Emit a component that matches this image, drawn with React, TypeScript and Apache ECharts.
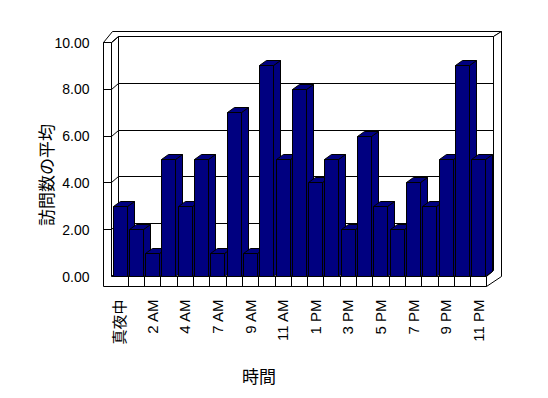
import React, { useEffect, useRef } from "react";
import * as echarts from "echarts";

const categories = [
  "真夜中", "1 AM", "2 AM", "3 AM", "4 AM", "5 AM", "7 AM", "8 AM", "9 AM", "10 AM", "11 AM", "正午",
  "1 PM", "2 PM", "3 PM", "4 PM", "5 PM", "6 PM", "7 PM", "8 PM", "9 PM", "10 PM", "11 PM",
];
const visits = [3, 2, 1, 5, 3, 5, 1, 7, 1, 9, 5, 8, 4, 5, 2, 6, 3, 2, 4, 3, 5, 9, 5];
const yTicks = [0, 2, 4, 6, 8, 10];
const yTitle = "訪問数の平均";
const xTitle = "時間";

const LATIN = '"Liberation Sans", Arial, "Noto Sans CJK JP", sans-serif';
const CJK = '"Noto Sans CJK JP", sans-serif';

const lineStyle = { fill: "#fff", stroke: "#000", lineWidth: 1 };

function renderFrame(params: any, api: any) {
  const cs = params.coordSys;
  const L = cs.x, T = cs.y, R = cs.x + cs.width, B = cs.y + cs.height;
  const DX = 7, DY = -6, WALL = 8, FLOOR = 10;
  const OUT_T = T + DY - 5;
  const OUT_R = R + DX + 8;
  const n = categories.length;
  const band = cs.width / n;
  const children: any[] = [];
  children.push({ type: "rect", shape: { x: L + DX, y: T + DY, width: R - L, height: B - T }, style: lineStyle });
  children.push({ type: "polygon", shape: { points: [[L, T], [L + DX, T + DY], [L + DX, B + DY], [L, B]] }, style: lineStyle });
  children.push({ type: "polygon", shape: { points: [[L, B], [L + DX, B + DY], [R + DX, B + DY], [R, B]] }, style: lineStyle });
  children.push({
    type: "polygon",
    shape: { points: [[L - WALL, T], [L, T], [L + DX, T + DY], [R + DX, T + DY], [OUT_R, OUT_T], [L + 1, OUT_T]] },
    style: lineStyle,
  });
  children.push({
    type: "polygon",
    shape: { points: [[R + DX, T + DY], [OUT_R, OUT_T], [OUT_R, B], [R, B + FLOOR], [R, B], [R + DX, B + DY]] },
    style: lineStyle,
  });
  children.push({
    type: "polygon",
    shape: { points: [[L - WALL, T], [L, T], [L, B], [R, B], [R, B + FLOOR], [L - WALL, B + FLOOR]] },
    style: lineStyle,
  });
  for (let k = 1; k < n; k++) {
    const x = Math.round(L + k * band) + 0.5;
    children.push({ type: "line", shape: { x1: x, y1: B, x2: x, y2: B + FLOOR }, style: { stroke: "#000", lineWidth: 1 } });
  }
  yTicks.forEach((v) => {
    if (v === 0) return;
    const y = Math.round(api.coord([0, v])[1] - 0.5) + 0.5;
    children.push({
      type: "polyline",
      shape: { points: [[L - WALL, y], [L, y], [L + DX, y + DY], [R + DX, y + DY]] },
      style: { stroke: "#000", lineWidth: 1, fill: "none" },
    });
  });
  return { type: "group", children };
}

function renderBar(params: any, api: any) {
  const i = api.value(0);
  const v = api.value(1);
  const [cx, ytRaw] = api.coord([i, v]);
  const ybRaw = api.coord([i, 0])[1];
  const band = api.size([1, 0])[0];
  const x0 = Math.round(cx - band / 2 + 1) + 0.5;
  const w = Math.round(band * 0.87);
  const yt = Math.round(ytRaw - 0.5) + 0.5;
  const yb = Math.round(ybRaw - 0.5) + 0.5;
  const dx = 7, dy = -5;
  const style = { fill: "#000080", stroke: "#000", lineWidth: 1 };
  return {
    type: "group",
    children: [
      { type: "polygon", shape: { points: [[x0 + w, yt], [x0 + w + dx, yt + dy], [x0 + w + dx, yb + dy], [x0 + w, yb]] }, style },
      { type: "polygon", shape: { points: [[x0, yt], [x0 + w, yt], [x0 + w + dx, yt + dy], [x0 + dx, yt + dy]] }, style },
      { type: "rect", shape: { x: x0, y: yt, width: w, height: yb - yt }, style },
    ],
  };
}

export default function App() {
  const ref = useRef<HTMLDivElement>(null);
  useEffect(() => {
    if (!ref.current) return;
    const chart = echarts.init(ref.current, null, { renderer: "svg" });
    chart.setOption({
      animation: false,
      backgroundColor: "#fff",
      grid: { left: 111.5, top: 42.5, width: 375, height: 234 },
      xAxis: {
        type: "category",
        data: categories,
        boundaryGap: true,
        axisLine: { show: false },
        axisTick: { show: false },
        splitLine: { show: false },
        axisLabel: { interval: 1, rotate: 90, margin: 23, fontSize: 15, fontFamily: LATIN, color: "#000" },
      },
      yAxis: {
        type: "value",
        min: 0,
        max: 10,
        interval: 2,
        axisLine: { show: false },
        axisTick: { show: false },
        splitLine: { show: false },
        axisLabel: { margin: 22, fontSize: 14, fontFamily: LATIN, color: "#000", formatter: (v: number) => v.toFixed(2) },
      },
      series: [
        { type: "custom", z: 1, silent: true, clip: false, renderItem: renderFrame, data: [[0, 0]] },
        { type: "custom", z: 3, clip: false, renderItem: renderBar, encode: { x: 0, y: 1 }, data: visits.map((v, i) => [i, v]) },
      ],
      graphic: [
        {
          type: "text",
          x: 45.5,
          y: 175,
          rotation: Math.PI / 2,
          style: { text: yTitle, font: `17px ${CJK}`, fill: "#000", align: "center", verticalAlign: "middle" },
        },
        {
          type: "text",
          x: 259,
          y: 375,
          style: { text: xTitle, font: `17px ${CJK}`, fill: "#000", align: "center", verticalAlign: "middle" },
        },
      ],
    });
    return () => chart.dispose();
  }, []);
  return <div ref={ref} style={{ position: "fixed", left: 0, top: 0, width: 548, height: 398, background: "#fff" }} />;
}
